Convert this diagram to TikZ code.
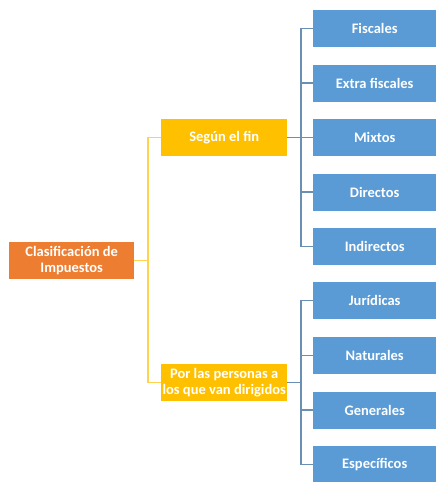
\documentclass[tikz,border=0pt]{standalone}
\usepackage{fontspec}
\setmainfont{Carlito}
\begin{document}
\begin{tikzpicture}[x=1pt,y=-1pt,
  box/.style={anchor=north west,inner sep=0pt,text=white,font=\bfseries\fontsize{14.5}{16.5}\selectfont,align=center},
  orangebox/.style={box,fill=orange1},
  yellowbox/.style={box,fill=yellow1},
  bluebox/.style={box,fill=blue1},
  yline/.style={draw=yline1,line width=1.5pt},
  bline/.style={draw=bline1,line width=1.5pt}]
\definecolor{orange1}{HTML}{ED7D31}
\definecolor{yellow1}{HTML}{FFC000}
\definecolor{blue1}{HTML}{5B9BD5}
\definecolor{yline1}{HTML}{FFD34D}
\definecolor{bline1}{HTML}{6A8FB5}
\useasboundingbox[fill=white] (0,0) rectangle (437,482);
% root
\node[orangebox,minimum width=125pt,minimum height=37pt] (root) at (9,242) {Clasificación de\\Impuestos};
% level 1
\node[yellowbox,minimum width=126pt,minimum height=37pt] (fin) at (161,119) {Según el fin};
\node[yellowbox,minimum width=126pt,minimum height=37pt] (per) at (161,364) {Por las personas a\\los que van dirigidos};
% level 2
\foreach \n/\t/\y in {f1/Fiscales/10, f2/Extra fiscales/64.5, f3/Mixtos/119, f4/Directos/173.5, f5/Indirectos/228,
  p1/Jurídicas/282, p2/Naturales/337, p3/Generales/391.5, p4/Específicos/446}
  \node[bluebox,minimum width=123pt,minimum height=37pt] (\n) at (313,\y) {\t};
% connectors yellow
\coordinate (ya) at (148,0);
\draw[yline] (root.east) -- (root.east -| ya);
\draw[yline] (fin.west) -| (ya |- root.east) |- (per.west);
% connectors blue
\coordinate (ba) at (301,0);
\draw[bline] (fin.east) -- (fin.east -| ba);
\draw[bline] (f1.west) -| (ba |- f3.west) |- (f5.west);
\foreach \n in {f2,f3,f4} \draw[bline] (\n.west) -- (\n.west -| ba);
\draw[bline] (per.east) -- (per.east -| ba);
\draw[bline] (p1.west) -| (ba |- per.east) |- (p4.west);
\foreach \n in {p2,p3} \draw[bline] (\n.west) -- (\n.west -| ba);
\end{tikzpicture}
\end{document}
